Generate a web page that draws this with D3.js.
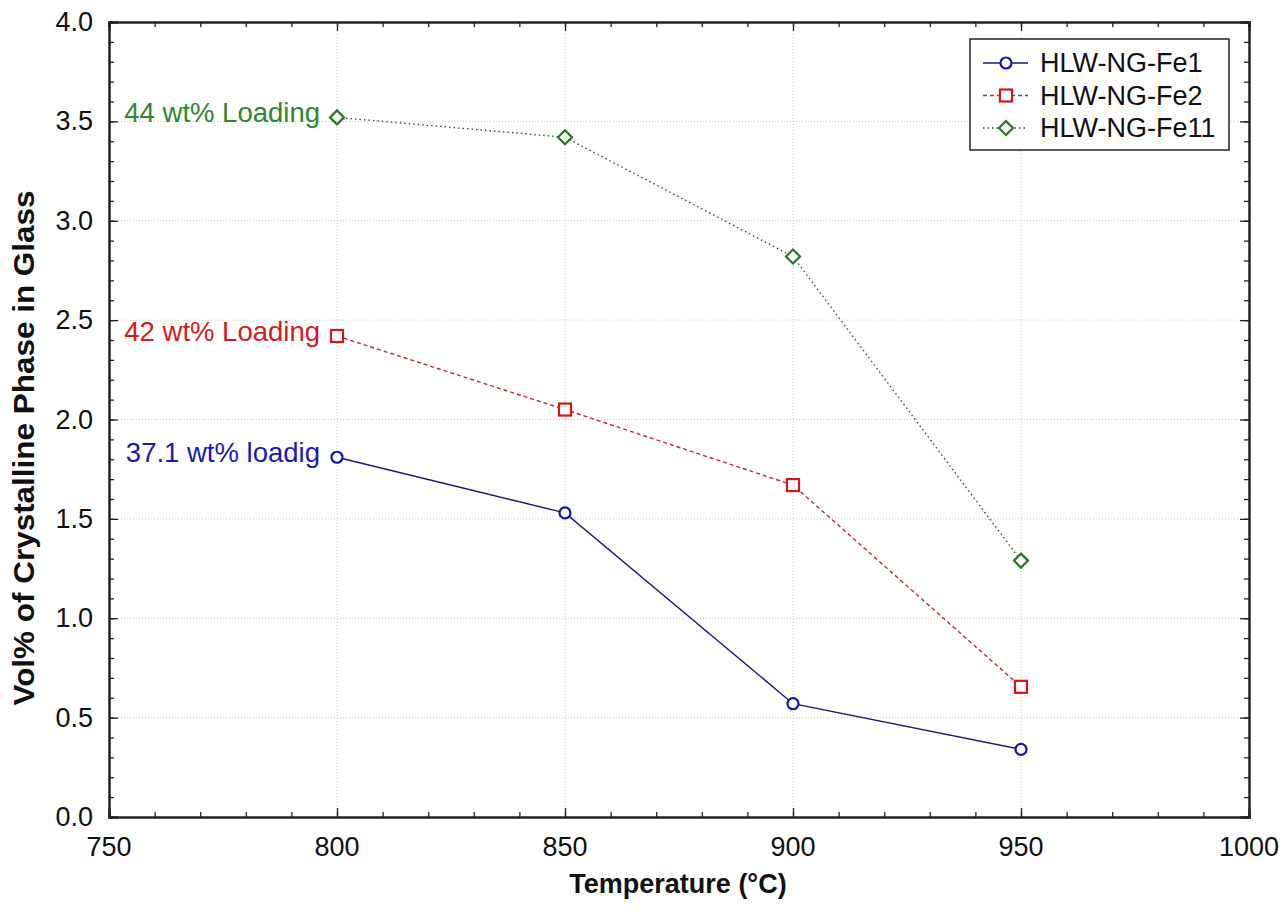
<!DOCTYPE html>
<html>
<head>
<meta charset="utf-8">
<script src="https://cdn.jsdelivr.net/npm/d3@7"></script>
<style>
  body { margin: 0; background: #fff; }
  text { font-family: "Liberation Sans", Arial, sans-serif; }
</style>
</head>
<body>
<svg id="chart" width="1285" height="913"></svg>
<script>
// data
var temps = [800, 850, 900, 950];
var fe1 = [1.81, 1.53, 0.57, 0.34];
var fe2 = [2.42, 2.05, 1.67, 0.655];
var fe11 = [3.52, 3.42, 2.82, 1.29];
var seriesNames = ["HLW-NG-Fe1", "HLW-NG-Fe2", "HLW-NG-Fe11"];
var loadingLabels = ["37.1 wt% loadig", "42 wt% Loading", "44 wt% Loading"];
var xTicks = [750, 800, 850, 900, 950, 1000];
var yTicks = [0, 0.5, 1, 1.5, 2, 2.5, 3, 3.5, 4];

var ctx = {
    left: 109, right: 1249, top: 22, bottom: 817
};

var styles = [
    { line: "#1a1a7a", mark: "#1515b0", text: "#1a1ab8", dash: null, shape: "circle" },
    { line: "#b33030", mark: "#d41515", text: "#d41a1a", dash: "4,3", shape: "square" },
    { line: "#2a5a2a", mark: "#237a23", text: "#2a8a2a", dash: "1.5,3", shape: "diamond" }
];

var svg = d3.select("#chart");

var x = d3.scaleLinear().domain([750, 1000]).range([ctx.left, ctx.right]);
var y = d3.scaleLinear().domain([0, 4]).range([ctx.bottom, ctx.top]);

// grid (major only, dotted)
var grid = svg.append("g").attr("class", "grid");
grid.selectAll("line.vx")
    .data(xTicks.slice(1, -1))
    .enter().append("line")
    .attr("x1", d => x(d)).attr("x2", d => x(d))
    .attr("y1", ctx.top).attr("y2", ctx.bottom)
    .attr("stroke", "#c8c8c8").attr("stroke-dasharray", "1,2");
grid.selectAll("line.hy")
    .data(yTicks.slice(1, -1))
    .enter().append("line")
    .attr("x1", ctx.left).attr("x2", ctx.right)
    .attr("y1", d => y(d)).attr("y2", d => y(d))
    .attr("stroke", "#c8c8c8").attr("stroke-dasharray", "1,2");

// axes: all four sides, ticks inward
var xMinor = d3.range(750, 1001, 10);
var yMinor = d3.range(0, 40.01, 1).map(d => d / 10);

svg.append("g").attr("transform", "translate(0," + ctx.bottom + ")")
    .call(d3.axisTop(x).tickValues(xMinor).tickSize(5).tickFormat(""));
svg.append("g").attr("transform", "translate(0," + ctx.bottom + ")")
    .call(d3.axisTop(x).tickValues(xTicks).tickSize(9).tickFormat(""));
svg.append("g").attr("transform", "translate(0," + ctx.top + ")")
    .call(d3.axisBottom(x).tickValues(xMinor).tickSize(5).tickFormat(""));
svg.append("g").attr("transform", "translate(0," + ctx.top + ")")
    .call(d3.axisBottom(x).tickValues(xTicks).tickSize(9).tickFormat(""));
svg.append("g").attr("transform", "translate(" + ctx.left + ",0)")
    .call(d3.axisRight(y).tickValues(yMinor).tickSize(5).tickFormat(""));
svg.append("g").attr("transform", "translate(" + ctx.left + ",0)")
    .call(d3.axisRight(y).tickValues(yTicks).tickSize(9).tickFormat(""));
svg.append("g").attr("transform", "translate(" + ctx.right + ",0)")
    .call(d3.axisLeft(y).tickValues(yMinor).tickSize(5).tickFormat(""));
svg.append("g").attr("transform", "translate(" + ctx.right + ",0)")
    .call(d3.axisLeft(y).tickValues(yTicks).tickSize(9).tickFormat(""));

svg.selectAll(".domain").attr("stroke", "#222").attr("stroke-width", 2);
svg.selectAll(".tick line").attr("stroke", "#222").attr("stroke-width", 1.3);

// tick labels
svg.selectAll("text.xlab")
    .data(xTicks)
    .enter().append("text")
    .attr("x", d => x(d)).attr("y", 856)
    .attr("text-anchor", "middle")
    .attr("font-size", "27px").attr("fill", "#111")
    .text(d => d);
svg.selectAll("text.ylab")
    .data(yTicks)
    .enter().append("text")
    .attr("x", 93).attr("y", d => y(d) + 9)
    .attr("text-anchor", "end")
    .attr("font-size", "27px").attr("fill", "#111")
    .text(d => d.toFixed(1));

// axis titles
svg.append("text")
    .attr("x", 678).attr("y", 893)
    .attr("text-anchor", "middle")
    .attr("font-size", "27px").attr("font-weight", "bold").attr("fill", "#111")
    .text("Temperature (°C)");
svg.append("text")
    .attr("transform", "translate(34," + 448 + ") rotate(-90)")
    .attr("text-anchor", "middle")
    .attr("font-size", "29px").attr("font-weight", "bold").attr("fill", "#111")
    .attr("textLength", 515).attr("lengthAdjust", "spacingAndGlyphs")
    .text("Vol% of Crystalline Phase in Glass");

// series
var allSeries = [fe1, fe2, fe11];
var line = d3.line().x((d, i) => x(temps[i])).y(d => y(d));

var drawMarker = function(g, shape, cx, cy, color) {
    if (shape === "circle") {
        g.append("circle").attr("cx", cx).attr("cy", cy).attr("r", 5.5)
            .attr("fill", "#fff").attr("stroke", color).attr("stroke-width", 2.2);
    } else if (shape === "square") {
        g.append("rect").attr("x", cx - 6).attr("y", cy - 6).attr("width", 12).attr("height", 12)
            .attr("fill", "#fff").attr("stroke", color).attr("stroke-width", 2.2);
    } else {
        g.append("path")
            .attr("d", "M" + cx + "," + (cy - 7) + "L" + (cx + 7) + "," + cy + "L" + cx + "," + (cy + 7) + "L" + (cx - 7) + "," + cy + "Z")
            .attr("fill", "#fff").attr("stroke", color).attr("stroke-width", 2.2);
    }
};

allSeries.forEach(function(s, k) {
    var st = styles[k];
    var g = svg.append("g").attr("class", "series");
    g.append("path").datum(s)
        .attr("d", line)
        .attr("fill", "none")
        .attr("stroke", st.line)
        .attr("stroke-width", 1.4)
        .attr("stroke-dasharray", st.dash);
    s.forEach(function(v, i) {
        drawMarker(g, st.shape, x(temps[i]), y(v), st.mark);
    });
    // loading annotation beside first point
    svg.append("text")
        .attr("x", x(temps[0]) - 17).attr("y", y(s[0]) + 5)
        .attr("text-anchor", "end")
        .attr("font-size", "27.5px").attr("fill", st.text)
        .text(loadingLabels[k]);
});

// legend
var legG = svg.append("g").attr("transform", "translate(970,39)");
legG.append("rect").attr("width", 259).attr("height", 111)
    .attr("fill", "#fff").attr("stroke", "#222").attr("stroke-width", 1.5);
seriesNames.forEach(function(n, k) {
    var st = styles[k];
    var ly = 24 + k * 32.5;
    legG.append("line")
        .attr("x1", 13).attr("x2", 58).attr("y1", ly).attr("y2", ly)
        .attr("stroke", st.line).attr("stroke-width", 1.4)
        .attr("stroke-dasharray", st.dash);
    drawMarker(legG, st.shape, 36, ly, st.mark);
    legG.append("text")
        .attr("x", 70).attr("y", ly + 9)
        .attr("font-size", "27px").attr("fill", "#111")
        .text(n);
});
</script>
</body>
</html>
